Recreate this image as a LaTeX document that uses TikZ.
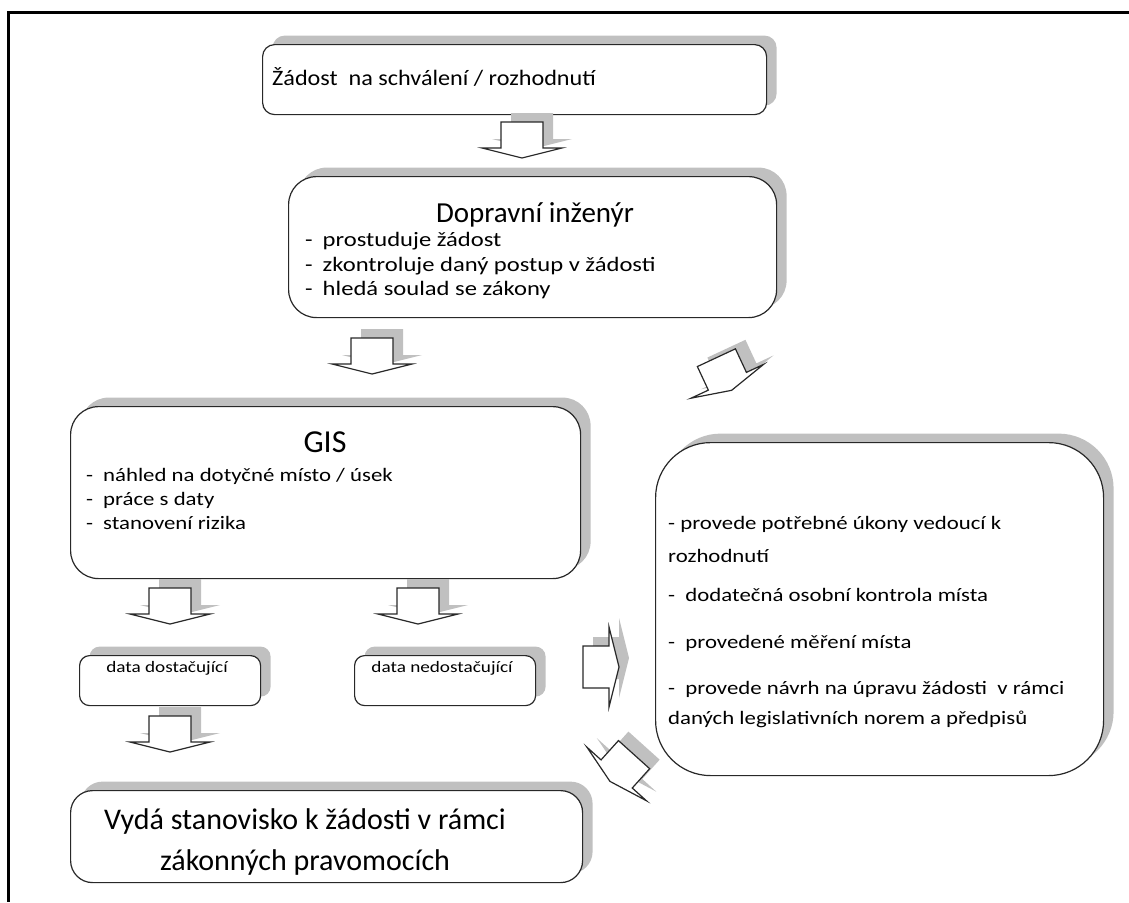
\documentclass[tikz,border=0pt]{standalone}
\usepackage{fontspec}
\setmainfont{Carlito}
\newfontfamily\widetext[FakeStretch=1.2]{Carlito}
\newfontfamily\midtext[FakeStretch=1.1]{Carlito}
\usetikzlibrary{shadows}
\definecolor{shadowgray}{RGB}{192,192,192}
\definecolor{edge}{RGB}{40,40,40}
\tikzset{
  box/.style={draw=edge, line width=1.2pt, fill=white, inner sep=0pt, anchor=north west,
    drop shadow={shadow xshift=10pt, shadow yshift=9pt, fill=shadowgray, opacity=1}},
  txt/.style={inner sep=0pt, anchor=base west, text=black},
  ctxt/.style={inner sep=0pt, anchor=base, text=black},
  body/.style={txt, font=\widetext\fontsize{19}{23}\selectfont},
  bodyb/.style={txt, font=\widetext\fontsize{20.5}{24}\selectfont},
  arrowline/.style={draw=edge, line width=1.2pt, fill=white, line join=miter},
  pics/blockarrow/.style={code={
    \path[pic actions] (-21,-18) -- (21,-18) -- (21,8) -- (40,8) -- (0,18) -- (-40,8) -- (-21,8) -- cycle;}},
}
% block arrow with its grey shadow: x, y, rotation
\newcommand\blockarrowat[3]{%
  \pic[rotate=#3, fill=shadowgray] at ({#1+10},{#2-9}) {blockarrow};
  \pic[rotate=#3, arrowline] at (#1,#2) {blockarrow};}
\begin{document}
\begin{tikzpicture}[x=1pt,y=-1pt]
\useasboundingbox (0,0) rectangle (1129,902);
% page frame
\draw[line width=3pt] (1129,12) -- (8,12) -- (8,902);

% boxes
\node[box, rounded corners=12pt, minimum width=504pt, minimum height=70pt] (zad) at (262,44) {};
\node[box, rounded corners=28pt, minimum width=488pt, minimum height=141pt] (ing) at (288,176) {};
\node[box, rounded corners=28pt, minimum width=510pt, minimum height=172pt] (gis) at (70,406) {};
\node[box, rounded corners=10pt, minimum width=181pt, minimum height=50pt] (dd) at (79,655) {};
\node[box, rounded corners=10pt, minimum width=181pt, minimum height=50pt] (nd) at (354,655) {};
\node[box, rounded corners=22pt, minimum width=512pt, minimum height=92pt] (vyd) at (70,790) {};
\node[box, rounded corners=55pt, minimum width=448pt, minimum height=333pt] (kro) at (655,442) {};

% texts
\node[txt, font=\midtext\fontsize{22}{26}\selectfont] (zadt) at (272,85) {Žádost~ na schválení / rozhodnutí};

\node[ctxt, font=\fontsize{29}{35}\selectfont] (ingt) at (535,222) {Dopravní inženýr};
\node[bodyb] (ing1) at (305,246) {-\kern10pt prostuduje žádost};
\node[bodyb] (ing2) at (305,271) {-\kern10pt zkontroluje daný postup v žádosti};
\node[bodyb] (ing3) at (305,295) {-\kern10pt hledá soulad se zákony};

\node[ctxt, font=\fontsize{32}{38}\selectfont] (gist) at (325,452) {GIS};
\node[body] (gis1) at (86,481) {-\kern10pt náhled na dotyčné místo / úsek};
\node[body] (gis2) at (86,505) {-\kern10pt práce s daty};
\node[body] (gis3) at (86,529) {-\kern10pt stanovení rizika};

\node[ctxt, font=\widetext\fontsize{16}{20}\selectfont] (ddt) at (167,672) {data dostačující};
\node[ctxt, font=\widetext\fontsize{16}{20}\selectfont] (ndt) at (442,672) {data nedostačující};

\node[ctxt, font=\fontsize{30}{36}\selectfont] (vydt1) at (305,829) {Vydá stanovisko k žádosti v rámci};
\node[ctxt, font=\fontsize{30}{36}\selectfont] (vydt2) at (305,870) {zákonných pravomocích};

\node[body] (kro1) at (668,529) {- provede potřebné úkony vedoucí k};
\node[body] (kro2) at (668,562) {rozhodnutí};
\node[body] (kro3) at (668,601) {-~ dodatečná osobní kontrola místa};
\node[body] (kro4) at (668,648) {-~ provedené měření místa};
\node[body] (kro5) at (668,694) {-~ provede návrh na úpravu žádosti~ v rámci};
\node[body] (kro6) at (668,724) {daných legislativních norem a předpisů};

% block arrows between the boxes
\blockarrowat{522}{140}{0}
\blockarrowat{372}{356}{0}
\blockarrowat{724}{374}{25}
\blockarrowat{170}{606}{0}
\blockarrowat{418}{606}{0}
\blockarrowat{170}{734}{0}
\blockarrowat{601}{667}{90}
\blockarrowat{622}{768}{-42}
\end{tikzpicture}
\end{document}
